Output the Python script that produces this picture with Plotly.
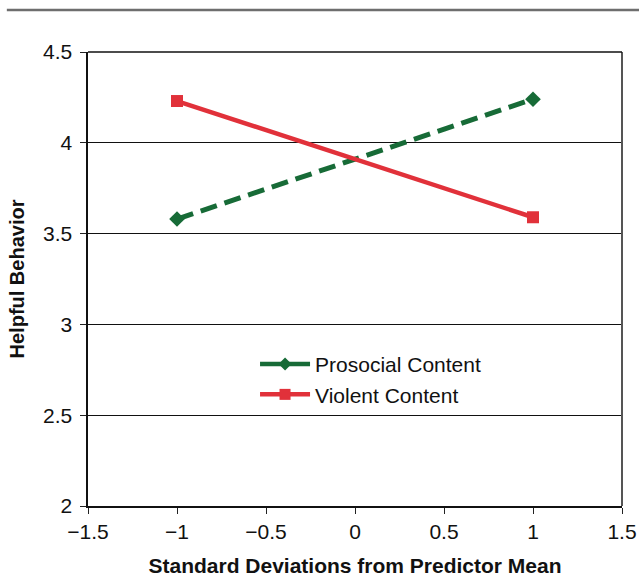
import plotly.graph_objects as go

x_vals = [-1, 1]
prosocial = [3.58, 4.24]
violent = [4.23, 3.59]
series_names = ["Prosocial Content", "Violent Content"]
x_ticks = [-1.5, -1, -0.5, 0, 0.5, 1, 1.5]
x_tick_text = ["\u22121.5", "\u22121", "\u22120.5", "0", "0.5", "1", "1.5"]
y_ticks = [2, 2.5, 3, 3.5, 4, 4.5]
y_tick_text = ["2", "2.5", "3", "3.5", "4", "4.5"]

GREEN = "#176b37"
RED = "#e1313a"

fig = go.Figure()
fig.add_trace(go.Scatter(x=x_vals, y=prosocial, mode="lines+markers", showlegend=False,
                         line=dict(color=GREEN, width=5, dash="17px,8px"),
                         marker=dict(symbol="diamond", size=12, color=GREEN)))
fig.add_trace(go.Scatter(x=x_vals, y=violent, mode="lines+markers", showlegend=False,
                         line=dict(color=RED, width=4.5),
                         marker=dict(symbol="square", size=12, color=RED)))
# legend entries (solid samples as in the reference)
fig.add_trace(go.Scatter(x=[None], y=[None], mode="lines+markers", name=series_names[0],
                         line=dict(color=GREEN, width=4.5),
                         marker=dict(symbol="diamond", size=10, color=GREEN)))
fig.add_trace(go.Scatter(x=[None], y=[None], mode="lines+markers", name=series_names[1],
                         line=dict(color=RED, width=4.5),
                         marker=dict(symbol="square", size=11, color=RED)))

fig.update_layout(
    width=639, height=577,
    margin=dict(l=88, r=17, t=52, b=71, autoexpand=False),
    paper_bgcolor="white", plot_bgcolor="white",
    font=dict(family="Liberation Sans, Arial, sans-serif", color="#111", size=21),
    showlegend=True,
    legend=dict(x=0.3128, y=0.357, xanchor="left", yanchor="top",
                bgcolor="rgba(0,0,0,0)", font=dict(size=21), itemwidth=50,
                tracegroupgap=0),
    xaxis=dict(range=[-1.5, 1.5], tickvals=x_ticks, ticktext=x_tick_text,
               ticks="outside", ticklen=6, tickcolor="#222", showgrid=False,
               zeroline=False, showline=True, linecolor="#111", linewidth=2,
               mirror=False, tickfont=dict(size=21), automargin=False,
               title=dict(text="<b>Standard Deviations from Predictor Mean</b>",
                          font=dict(size=21), standoff=20)),
    yaxis=dict(range=[2, 4.5], tickvals=y_ticks, ticktext=y_tick_text,
               ticks="outside", ticklen=6, tickcolor="#222", showgrid=True,
               gridcolor="#111", gridwidth=1.3, zeroline=False,
               showline=True, linecolor="#111", linewidth=2.5,
               tickfont=dict(size=21), ticklabelstandoff=3, automargin=False,
               title=dict(text="<b>Helpful Behavior</b>", font=dict(size=20), standoff=13)),
    shapes=[
        dict(type="line", xref="paper", yref="paper", x0=-0.152, x1=1.04,
             y0=1.0925, y1=1.0925, line=dict(color="#6e6e6e", width=2.5)),
        dict(type="line", xref="paper", yref="paper", x0=1, x1=1, y0=0, y1=1,
             line=dict(color="#555", width=2)),
        dict(type="line", xref="paper", yref="paper", x0=0, x1=1, y0=1, y1=1,
             line=dict(color="#111", width=1.5)),
    ],
)

fig.write_html("out.html",
               config=dict(displayModeBar=False, staticPlot=True),
               post_script="document.body.style.margin='0';document.body.style.overflow='hidden';")
